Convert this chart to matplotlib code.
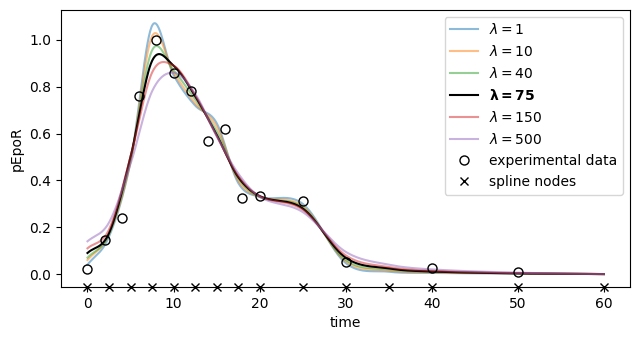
import numpy as np
import matplotlib
matplotlib.use("Agg")
import matplotlib.pyplot as plt

# spline nodes
nodes = [0, 2.5, 5, 7.5, 10, 12.5, 15, 17.5, 20, 25, 30, 35, 40, 50, 60]
# curve values at nodes for each lambda
lambdas = [1, 10, 40, 75, 150, 500]
curve_blue   = [0.04, 0.16, 0.48, 1.06, 0.85, 0.72, 0.645, 0.39, 0.33, 0.30, 0.047, 0.010, 0.005, 0.002, 0.0]
curve_orange = [0.06, 0.17, 0.48, 1.015, 0.86, 0.73, 0.63, 0.40, 0.33, 0.29, 0.055, 0.015, 0.007, 0.003, 0.0]
curve_green  = [0.07, 0.17, 0.49, 0.955, 0.87, 0.745, 0.61, 0.41, 0.33, 0.285, 0.060, 0.020, 0.010, 0.003, 0.0]
curve_black  = [0.09, 0.175, 0.50, 0.91, 0.89, 0.76, 0.595, 0.415, 0.333, 0.28, 0.070, 0.024, 0.011, 0.003, 0.0]
curve_red    = [0.11, 0.19, 0.50, 0.86, 0.89, 0.765, 0.59, 0.42, 0.333, 0.275, 0.080, 0.030, 0.014, 0.004, 0.0]
curve_purple = [0.14, 0.22, 0.47, 0.78, 0.86, 0.77, 0.59, 0.43, 0.33, 0.265, 0.095, 0.040, 0.020, 0.006, 0.0]
curves = [curve_blue, curve_orange, curve_green, curve_black, curve_red, curve_purple]

# experimental data
data_t = [0, 2, 4, 6, 8, 10, 12, 14, 16, 18, 20, 25, 30, 40, 50]
data_y = [0.02, 0.145, 0.24, 0.76, 1.0, 0.86, 0.78, 0.57, 0.62, 0.325, 0.335, 0.31, 0.05, 0.025, 0.01]


def fd_hermite_spline(x, y, xs):
    """Cubic Hermite spline with finite-difference derivatives at the nodes."""
    x = np.asarray(x, float); y = np.asarray(y, float)
    n = len(x)
    d = np.empty(n)
    d[0] = (y[1] - y[0]) / (x[1] - x[0])
    d[-1] = (y[-1] - y[-2]) / (x[-1] - x[-2])
    d[1:-1] = (y[2:] - y[:-2]) / (x[2:] - x[:-2])
    idx = np.clip(np.searchsorted(x, xs, side='right') - 1, 0, n - 2)
    h = x[idx + 1] - x[idx]
    s = (xs - x[idx]) / h
    h00 = 2 * s**3 - 3 * s**2 + 1
    h10 = s**3 - 2 * s**2 + s
    h01 = -2 * s**3 + 3 * s**2
    h11 = s**3 - s**2
    return h00 * y[idx] + h10 * h * d[idx] + h01 * y[idx + 1] + h11 * h * d[idx + 1]


fig = plt.figure(figsize=(6.4, 3.4), dpi=100)
ax = fig.add_axes([0.095, 0.156, 0.889, 0.815])
ts = np.linspace(0, 60, 800)
colors = ['tab:blue', 'tab:orange', 'tab:green', 'black', 'tab:red', 'tab:purple']
for lam, c, col in zip(lambdas, curves, colors):
    ys = fd_hermite_spline(nodes, c, ts)
    if lam == 75:
        ax.plot(ts, ys, color='black', lw=1.5, label=r'$\boldsymbol{\lambda=75}$')
    else:
        ax.plot(ts, ys, color=col, lw=1.5, alpha=0.5, label=r'$\lambda=%d$' % lam)
ax.plot(data_t, data_y, 'o', mfc='none', mec='black', color='black', ms=6.5, label='experimental data')
ax.plot(nodes, [-0.055] * len(nodes), 'x', color='black', ms=6, clip_on=False, label='spline nodes')
ax.set_xlim(-3.1, 63)
ax.set_ylim(-0.055, 1.128)
ax.set_xlabel('time')
ax.set_ylabel('pEpoR')
ax.legend(loc='upper right')
fig.savefig('out.png', dpi=100)
